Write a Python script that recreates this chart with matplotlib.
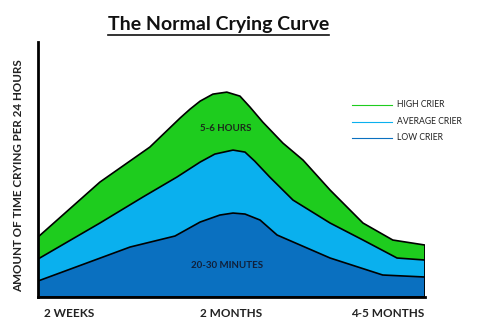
import matplotlib.pyplot as plt
import matplotlib.patheffects as pe
from matplotlib.lines import Line2D

plt.rcParams['font.family'] = ['Lato', 'DejaVu Sans']

# age axis: 0 = 2 weeks ... 100 = ~5 months (arbitrary units)
high_x = [0, 16.0, 28.9, 36.7, 39.3, 41.9, 45.2, 48.8, 52.2, 54.8, 58.1, 63.3, 68.5, 75.5, 84.0, 91.7, 100]
high_y = [60, 115, 150, 179, 188, 196, 203, 205, 201, 190, 175, 154, 137, 107, 74, 57, 52]

avg_x = [0, 16.0, 27.1, 35.9, 41.9, 45.7, 50.4, 53.5, 56.0, 59.9, 65.9, 75.5, 84.0, 92.8, 100]
avg_y = [38, 74, 100, 120, 135, 143, 147, 145, 136, 120, 97, 74, 57, 39, 37]

low_x = [0, 23.8, 35.4, 41.9, 47.0, 50.4, 53.5, 57.4, 61.8, 75.5, 89.1, 100]
low_y = [16, 50, 61, 75, 82, 84, 83, 77, 62, 39, 22, 20]

tick_pos = [8.0, 49.9, 90.4]
tick_labels = ['2 WEEKS', '2 MONTHS', '4-5 MONTHS']

series = ['HIGH CRIER', 'AVERAGE CRIER', 'LOW CRIER']
colors = ['#1ECC1E', '#0AB0EE', '#0A70C0']

fig = plt.figure(figsize=(4.8, 3.34), dpi=100)
ax = fig.add_axes([0.0792, 0.1108, 0.806, 0.763])

shadow = [pe.SimplePatchShadow(offset=(1.5, -1.5), shadow_rgbFace='black', alpha=0.35), pe.Normal()]
for xs, ys, c in [(high_x, high_y, colors[0]), (avg_x, avg_y, colors[1]), (low_x, low_y, colors[2])]:
    poly = ax.fill_between(xs, ys, 0, facecolor=c, edgecolor='black', linewidth=1.2,
                           joinstyle='round')
    poly.set_path_effects(shadow)

ax.set_xlim(0, 100)
ax.set_ylim(0, 255)
for s in ['top', 'right']:
    ax.spines[s].set_visible(False)
for s in ['left', 'bottom']:
    ax.spines[s].set_linewidth(2.0)
    ax.spines[s].set_zorder(5)
ax.set_yticks([])
ax.set_xticks(tick_pos)
ax.set_xticklabels(tick_labels, fontsize=8.5, fontweight='bold', color='#222222')
ax.tick_params(axis='x', length=0, pad=8)

ax.set_ylabel('AMOUNT OF TIME CRYING PER 24 HOURS', fontsize=8.4, fontweight='bold',
              color='#222222')
ax.yaxis.set_label_coords(-0.036, 0.475)

ax.text(48.5, 169, '5-6 HOURS', ha='center', va='center', fontsize=7,
        fontweight='bold', color='#1a2a1a')
ax.text(48.8, 32, '20-30 MINUTES', ha='center', va='center', fontsize=7,
        fontweight='bold', color='#10203a')

# title, underlined
fig.text(0.455, 0.927, 'The Normal Crying Curve', ha='center', va='center',
         fontsize=14, fontweight='bold', color='#111111')
fig.add_artist(Line2D([0.226, 0.686], [0.896, 0.896], color='#111111', linewidth=1.2))

# legend drawn as short lines
leg_y = [0.686, 0.635, 0.587]
for name, c, y in zip(series, colors, leg_y):
    fig.add_artist(Line2D([0.733, 0.817], [y, y], color=c, linewidth=0.8))
    fig.text(0.827, y + 0.002, name, ha='left', va='center', fontsize=6.2, color='#222222')

fig.savefig('out.png', dpi=100)
